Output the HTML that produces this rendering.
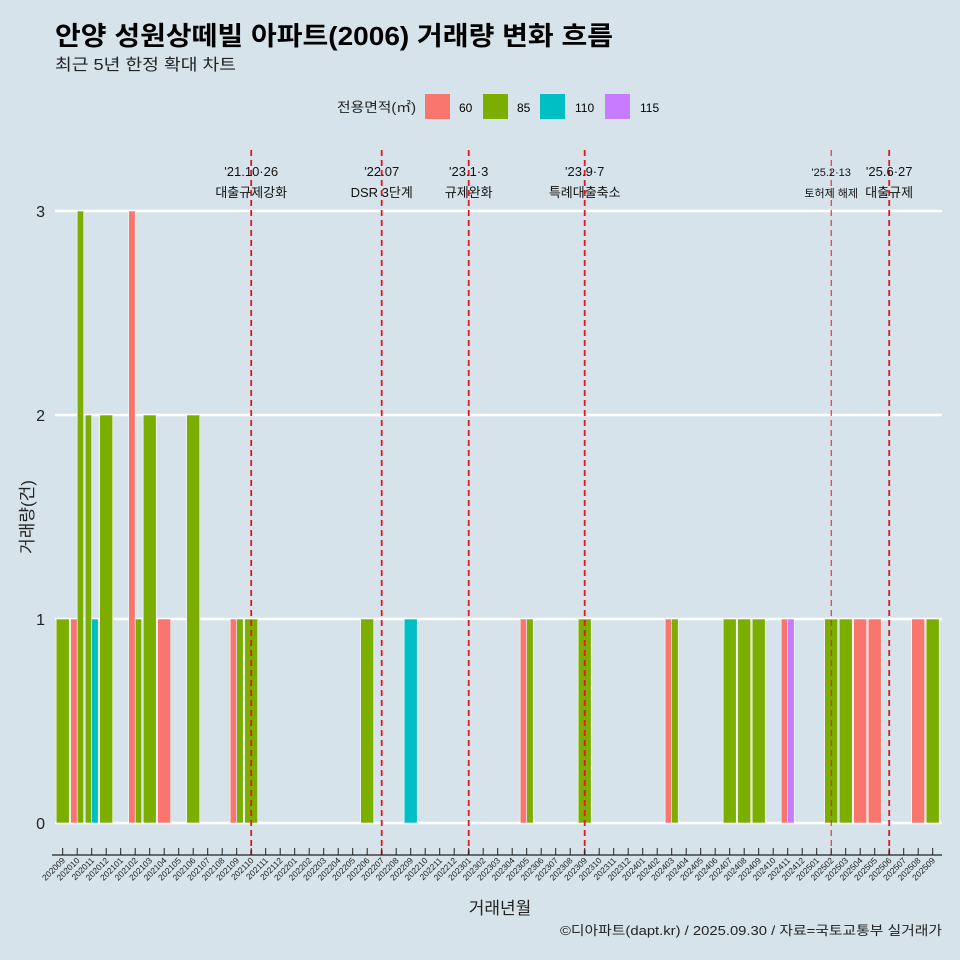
<!DOCTYPE html>
<html><head><meta charset="utf-8"><style>
body{margin:0;background:#d6e3ea;}
svg{display:block;font-family:"Liberation Sans","Noto Sans CJK KR",sans-serif;}
</style></head><body>
<svg id="c" width="960" height="960" viewBox="0 0 960 960">
<rect width="960" height="960" fill="#d6e3ea"/>
<text x="55" y="45" font-size="26" font-weight="bold" fill="#000" textLength="558" lengthAdjust="spacingAndGlyphs">안양 성원상떼빌 아파트(2006) 거래량 변화 흐름</text>
<text x="55" y="70" font-size="16" fill="#222" textLength="181" lengthAdjust="spacingAndGlyphs">최근 5년 한정 확대 차트</text>
<g>
<text x="337" y="112" font-size="13.5" fill="#222" textLength="79" lengthAdjust="spacingAndGlyphs">전용면적(㎡)</text>
<rect x="425" y="94" width="25" height="25" fill="#f8766d"/><text x="459" y="112" font-size="12">60</text>
<rect x="483" y="94" width="25" height="25" fill="#7cae00"/><text x="517" y="112" font-size="12">85</text>
<rect x="540" y="94" width="25" height="25" fill="#00bfc4"/><text x="575" y="112" font-size="12">110</text>
<rect x="605" y="94" width="25" height="25" fill="#c77cff"/><text x="640" y="112" font-size="12">115</text>
</g>
<g id="grid"></g><g id="bars"></g><g id="events"></g><g id="xaxis"></g>
<text x="500" y="914" font-size="17" text-anchor="middle" fill="#222">거래년월</text>
<text transform="translate(33,517) rotate(-90)" font-size="17" text-anchor="middle" fill="#222">거래량(건)</text>
<text x="560" y="935" font-size="13" fill="#222" textLength="382" lengthAdjust="spacingAndGlyphs">©디아파트(dapt.kr) / 2025.09.30 / 자료=국토교통부 실거래가</text>
</svg>
<script>
const months=[];for(let y=2020,m=9;months.length<61;){months.push(y+String(m).padStart(2,'0'));m++;if(m>12){m=1;y++;}}
const yTicks=[0,1,2,3];
const areas=['60','85','110','115'];
const colors={'60':'#f8766d','85':'#7cae00','110':'#00bfc4','115':'#c77cff'};
const recMonths=['202009','202010','202010','202011','202011','202012','202102','202102','202103','202104','202106','202109','202109','202110','202206','202209','202305','202305','202309','202403','202403','202407','202408','202409','202411','202411','202502','202503','202504','202505','202508','202509'];
const recAreas=['85','60','85','85','110','85','60','85','85','60','85','60','85','85','85','110','60','85','85','60','85','85','85','85','60','115','85','85','60','60','60','85'];
const recCounts=[1,1,3,2,1,2,3,1,2,1,2,1,1,1,1,1,1,1,1,1,1,1,1,1,1,1,1,1,1,1,1,1];
const evMonths=['202110','202207','202301','202309','202502','202506'];
const evDates=["'21.10·26","'22.07","'23.1·3","'23.9·7","'25.2·13","'25.6·27"];
const evLabels=['대출규제강화','DSR 3단계','규제완화','특례대출축소','토허제 해제','대출규제'];
const NS='http://www.w3.org/2000/svg';
const x0=62.7,step=14.5,y0=823,yu=204;
const xs=m=>x0+months.indexOf(m)*step;
const ys=v=>y0-v*yu;
function mk(t,a,p){const e=document.createElementNS(NS,t);for(const k in a)e.setAttribute(k,a[k]);p.appendChild(e);return e;}
const G=document.getElementById('grid');
yTicks.forEach(v=>{
 const l=mk('line',{x1:55,x2:942,y1:ys(v),y2:ys(v),stroke:'#fff','stroke-width':2.5},G);
 
 
 const t=mk('text',{x:45,y:ys(v)+6,'font-size':16,'text-anchor':'end',fill:'#222'},G);t.textContent=v;
 
 
});
const B=document.getElementById('bars');
const W=13.05;
months.forEach(m=>{
 const idx=[];recMonths.forEach((r,i)=>{if(r===m)idx.push(i);});
 idx.sort((a,b)=>areas.indexOf(recAreas[a])-areas.indexOf(recAreas[b]));
 const n=idx.length,w=W/n;
 idx.forEach((i,k)=>{
  const r=mk('rect',{x:xs(m)-W/2+k*w,y:ys(recCounts[i]),width:w,height:recCounts[i]*yu,fill:colors[recAreas[i]],stroke:'#fff','stroke-width':0.6},B);
  
  
 });
});
const E=document.getElementById('events');
evMonths.forEach((m,i)=>{
 const x=xs(m),thin=m==='202502';
 const l=mk('line',{x1:x,x2:x,y1:150,y2:855,stroke:'#e8141c','stroke-width':thin?1:1.8,'stroke-dasharray':'6,4'},E);
 
 
 const fs=thin?11:13;
 const d=mk('text',{x:x,y:176,'font-size':fs,'text-anchor':'middle',fill:'#111'},E);d.textContent=evDates[i];
 
 
 const t=mk('text',{x:x,y:197,'font-size':fs,'text-anchor':'middle',fill:'#111'},E);t.textContent=evLabels[i];
 
 
});
const X=document.getElementById('xaxis');
const ax=mk('line',{x1:52,x2:942,y1:855,y2:855,stroke:'#222','stroke-width':1.2},X);


months.forEach(m=>{
 const x=xs(m);
 mk('line',{x1:x,x2:x,y1:848,y2:855,stroke:'#222','stroke-width':1},X);
 const t=mk('text',{transform:`translate(${x+3},861) rotate(-45)`,'font-size':8.5,'text-anchor':'end',fill:'#222'},X);t.textContent=m;
 
 
});
</script>
</body></html>
